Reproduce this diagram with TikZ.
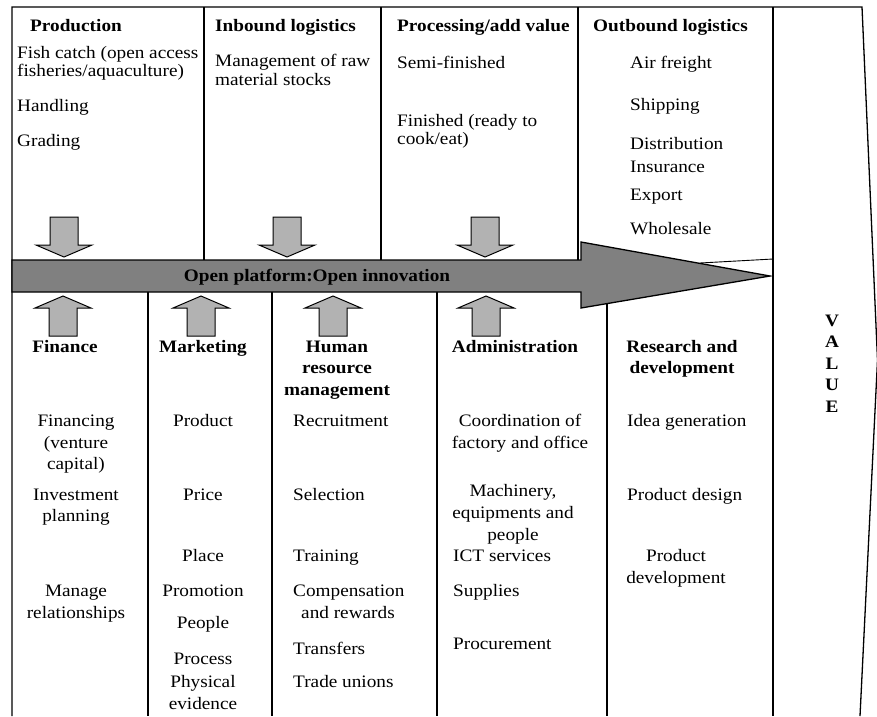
\documentclass[tikz,border=0pt]{standalone}
\usepackage{fontspec}
\setmainfont{Liberation Serif}[FakeStretch=1.10]
\definecolor{bigfill}{RGB}{128,128,128}
\definecolor{smallfill}{RGB}{178,178,178}
\begin{document}
\begin{tikzpicture}[x=1pt,y=-1pt,line join=miter]
\tikzset{
  frame/.style={draw=black,line width=1.3pt},
  thinline/.style={draw=black,line width=0.9pt},
  bigarrow/.style={fill=bigfill,draw=black,line width=1.3pt},
  smallarr/.style={fill=smallfill,draw=black,line width=1pt},
  txt/.style={font=\fontsize{17.5}{20}\selectfont,inner sep=0pt},
  lt/.style={txt,anchor=base west},
  ct/.style={txt,anchor=base},
  hd/.style={font=\fontsize{17.5}{20}\selectfont\bfseries,inner sep=0pt,anchor=base west},
  hdc/.style={font=\fontsize{17.5}{20}\selectfont\bfseries,inner sep=0pt,anchor=base},
  downarr/.pic={\path[smallarr] (-14,0) -- (14,0) -- (14,28) -- (28,28) -- (0,40) -- (-28,28) -- (-14,28) -- cycle;},
  uparr/.pic={\path[smallarr] (0,0) -- (28,12) -- (14,12) -- (14,40) -- (-14,40) -- (-14,12) -- (-28,12) -- cycle;}
}
\useasboundingbox (0,0) rectangle (877,716);
\begin{scope}
\clip (0,0) rectangle (877,716);
% frame
\draw[frame] (12,716) -- (12,7) -- (862,7) -- (877.5,360) -- (860,716);
\draw[frame] (773,7) -- (773,716);
\draw[frame] (204,7) -- (204,260);
\draw[frame] (381,7) -- (381,260);
\draw[frame] (578,7) -- (578,260);
\draw[frame] (148,292) -- (148,716);
\draw[frame] (272,292) -- (272,716);
\draw[frame] (437,292) -- (437,716);
\draw[frame] (607,300) -- (607,716);
\draw[thinline] (773,259) -- (700,263);
\end{scope}
% big arrow
\draw[bigarrow] (12,260) -- (581,260) -- (581,242) -- (770,276) -- (581,308) -- (581,292) -- (12,292) -- cycle;
\node[hdc] (plat) at (317,281) {Open platform:Open innovation};
% small arrows
\pic at (64,217) {downarr};
\pic at (287,217) {downarr};
\pic at (485,217) {downarr};
\pic at (63,296) {uparr};
\pic at (201,296) {uparr};
\pic at (333,296) {uparr};
\pic at (486,296) {uparr};
% top headings
\node[hd] (h1) at (30,31) {Production};
\node[hd] (h2) at (215,31) {Inbound logistics};
\node[hd] (h3) at (397,31) {Processing/add value};
\node[hd] (h4) at (593,31) {Outbound logistics};
% production
\node[lt] (p1) at (17,58) {Fish catch (open access};
\node[lt] (p2) at (17,76) {fisheries/aquaculture)};
\node[lt] (p3) at (17,111) {Handling};
\node[lt] (p4) at (17,146) {Grading};
% inbound
\node[lt] (i1) at (215,66) {Management of raw};
\node[lt] (i2) at (215,85) {material stocks};
% processing
\node[lt] (r1) at (397,68) {Semi-finished};
\node[lt] (r2) at (397,126) {Finished (ready to};
\node[lt] (r3) at (397,144) {cook/eat)};
% outbound
\node[lt] (o1) at (630,68) {Air freight};
\node[lt] (o2) at (630,110) {Shipping};
\node[lt] (o3) at (630,149) {Distribution};
\node[lt] (o4) at (630,172) {Insurance};
\node[lt] (o5) at (630,200) {Export};
\node[lt] (o6) at (630,234) {Wholesale};
% VALUE
\node[hdc] (v1) at (832,326) {V};
\node[hdc] (v2) at (832,347.5) {A};
\node[hdc] (v3) at (832,369) {L};
\node[hdc] (v4) at (832,390.5) {U};
\node[hdc] (v5) at (832,412) {E};
% bottom headings
\node[hdc] (b1) at (65,352) {Finance};
\node[hdc] (b2) at (203,352) {Marketing};
\node[hdc] (b3) at (337,352) {Human};
\node[hdc] (b3b) at (337,373) {resource};
\node[hdc] (b3c) at (337,395) {management};
\node[hdc] (b4) at (515,352) {Administration};
\node[hdc] (b5) at (682,352) {Research and};
\node[hdc] (b5b) at (682,373) {development};
% finance
\node[ct] (f1) at (76,426) {Financing};
\node[ct] (f2) at (76,448) {(venture};
\node[ct] (f3) at (76,469) {capital)};
\node[ct] (f4) at (76,500) {Investment};
\node[ct] (f5) at (76,521) {planning};
\node[ct] (f6) at (76,596) {Manage};
\node[ct] (f7) at (76,618) {relationships};
% marketing
\node[ct] (m1) at (203,426) {Product};
\node[ct] (m2) at (203,500) {Price};
\node[ct] (m3) at (203,561) {Place};
\node[ct] (m4) at (203,596) {Promotion};
\node[ct] (m5) at (203,628) {People};
\node[ct] (m6) at (203,664) {Process};
\node[ct] (m7) at (203,687) {Physical};
\node[ct] (m8) at (203,709) {evidence};
% HR
\node[lt] (hr1) at (293,426) {Recruitment};
\node[lt] (hr2) at (293,500) {Selection};
\node[lt] (hr3) at (293,561) {Training};
\node[lt] (hr4) at (293,596) {Compensation};
\node[ct] (hr5) at (348,618) {and rewards};
\node[lt] (hr6) at (293,654) {Transfers};
\node[lt] (hr7) at (293,687) {Trade unions};
% administration
\node[ct] (a1) at (520,426) {Coordination of};
\node[ct] (a2) at (520,448) {factory and office};
\node[ct] (a3) at (513,496) {Machinery,};
\node[ct] (a4) at (513,518) {equipments and};
\node[ct] (a5) at (513,540) {people};
\node[lt] (a6) at (453,561) {ICT services};
\node[lt] (a7) at (453,596) {Supplies};
\node[lt] (a8) at (453,649) {Procurement};
% R&D
\node[lt] (d1) at (627,426) {Idea generation};
\node[lt] (d2) at (627,500) {Product design};
\node[ct] (d3) at (676,561) {Product};
\node[ct] (d4) at (676,583) {development};
\end{tikzpicture}
\end{document}
